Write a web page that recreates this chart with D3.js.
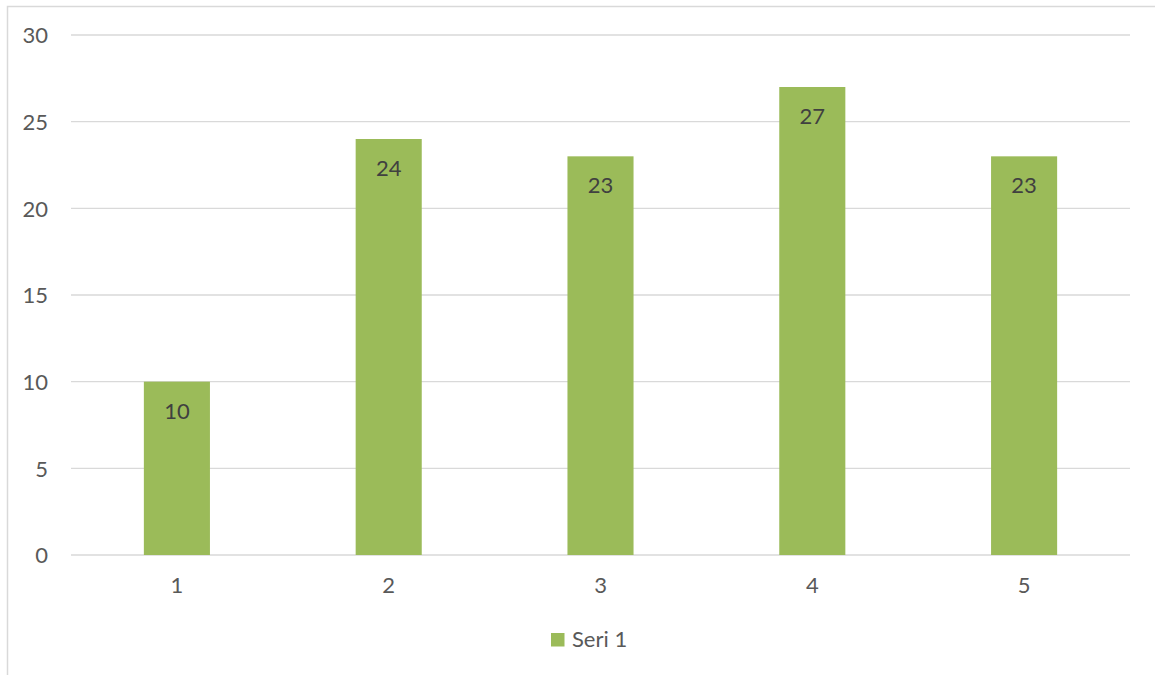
<!DOCTYPE html>
<html><head><meta charset="utf-8">
<script src="https://cdn.jsdelivr.net/npm/d3@7"></script>
<style>body{margin:0;background:#fff}svg{display:block}</style>
</head><body><svg id="c" width="1155" height="675"></svg>
<script>
const categories = ["1","2","3","4","5"];
const values = [10,24,23,27,23];
const yTicks = [0,5,10,15,20,25,30];
const seriesName = "Seri 1";

const svg = d3.select("#c");
const font = "Lato, 'Open Sans', sans-serif";
const fs = 22;
svg.append("rect").attr("x",7.5).attr("y",6.5).attr("width",1160).attr("height",680)
  .attr("fill","#fff").attr("stroke","#d9d9d9").attr("stroke-width",1.5);

const x = d3.scaleBand().domain(categories).range([71,1130]).paddingInner(0.688).paddingOuter(0.344);
const y = d3.scaleLinear().domain([0,30]).range([555,35]);

const grid = svg.append("g");
grid.selectAll("line").data(yTicks).join("line")
  .attr("x1",71).attr("x2",1130).attr("y1",d=>y(d)).attr("y2",d=>y(d))
  .attr("stroke","#d9d9d9").attr("stroke-width",1.3);

const yAxis = svg.append("g").attr("transform","translate(48,0)")
  .call(d3.axisLeft(y).tickValues(yTicks).tickSize(0).tickPadding(0));
yAxis.select(".domain").remove();
yAxis.selectAll("text").attr("font-family",font).attr("font-size",fs).attr("fill","#595959").attr("dy","0.36em");

svg.selectAll("rect.bar").data(values).join("rect").attr("class","bar")
  .attr("x",(d,i)=>x(categories[i])).attr("width",x.bandwidth())
  .attr("y",d=>y(d)).attr("height",d=>y(0)-y(d)).attr("fill","#9bbb59");

svg.selectAll("text.lab").data(values).join("text").attr("class","lab")
  .attr("x",(d,i)=>x(categories[i])+x.bandwidth()/2).attr("y",d=>y(d)+37)
  .attr("text-anchor","middle").attr("font-family",font).attr("font-size",fs).attr("fill","#404040")
  .text(d=>d);

const xAxis = svg.append("g").attr("transform","translate(0,593)")
  .call(d3.axisBottom(x).tickSize(0).tickPadding(0));
xAxis.select(".domain").remove();
xAxis.selectAll("text").attr("font-family",font).attr("font-size",fs).attr("fill","#595959").attr("dy","0");

const leg = svg.append("g");
leg.append("rect").attr("x",551).attr("y",633).attr("width",13.5).attr("height",13.5).attr("fill","#9bbb59");
leg.append("text").attr("x",572).attr("y",647).attr("font-family",font).attr("font-size",fs).attr("fill","#595959").text(seriesName);
</script></body></html>
